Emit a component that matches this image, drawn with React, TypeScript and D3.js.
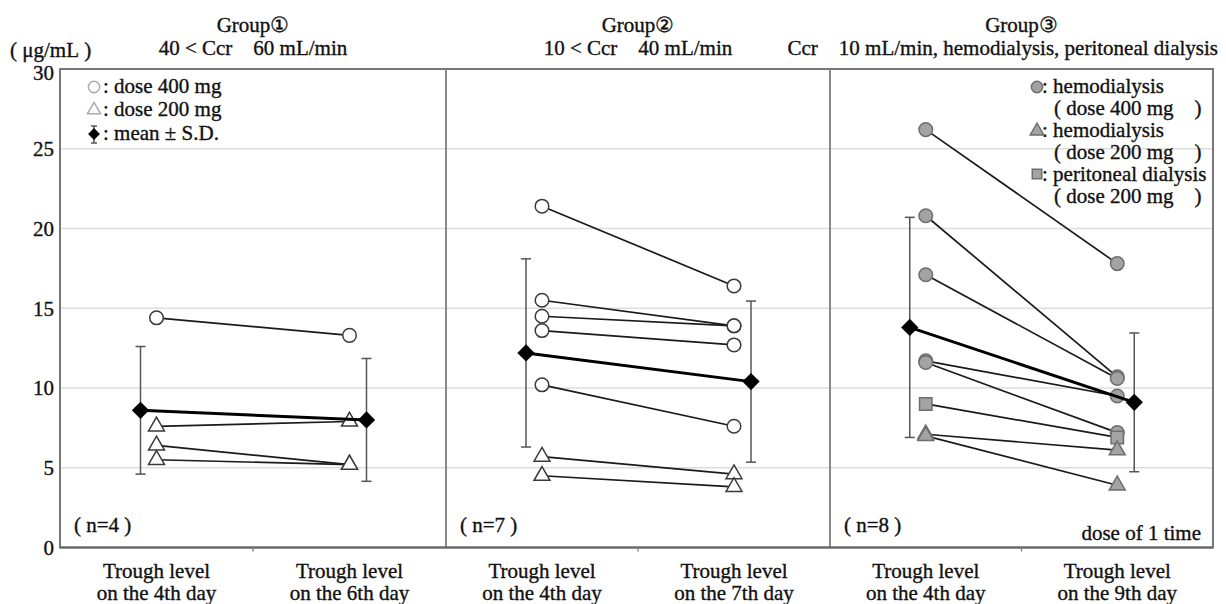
import * as d3 from "d3";

// y axis ticks (μg/mL)
const yTicks = [0, 5, 10, 15, 20, 25, 30];

const groupTitles = ["Group①", "Group②", "Group③"];
const nLabels = ["( n=4 )", "( n=7 )", "( n=8 )"];
const dayLabels = [
  ["on the 4th day", "on the 6th day"],
  ["on the 4th day", "on the 7th day"],
  ["on the 4th day", "on the 9th day"],
];

// each pair = [4th day, later day]
const g1Dose400 = [[14.4, 13.3]];
const g1Dose200 = [[7.6, 7.9], [6.4, 5.2], [5.5, 5.2]];
const g1Mean = [8.6, 8.0];
const g1SD = [4.0, 3.85];

const g2Dose400 = [[21.4, 16.4], [15.5, 13.9], [14.5, 13.9], [13.6, 12.7], [10.2, 7.6]];
const g2Dose200 = [[5.7, 4.6], [4.5, 3.8]];
const g2Mean = [12.2, 10.4];
const g2SD = [5.9, 5.05];

const g3Hemo400 = [[26.2, 17.8], [20.8, 10.7], [17.1, 10.6], [11.7, 9.5], [11.6, 7.2]];
const g3Hemo200 = [[7.1, 6.1], [7.0, 3.9]];
const g3Peri200 = [[9.0, 6.9]];
const g3Mean = [13.8, 9.1];
const g3SD = [6.9, 4.35];

const FONT = "'Liberation Serif', 'Times New Roman', serif";
const FS = 21;
const sp = "\u00A0";
const panelEdges = [60, 446, 830, 1213];
const top = 69;
const bottom = 547.5;

const y = d3.scaleLinear().domain([0, 30]).range([bottom, top]);

const sym = (type: d3.SymbolType, size: number) => d3.symbol().type(type).size(size)()!;
const circlePath = sym(d3.symbolCircle, 145);
const trianglePath = sym(d3.symbolTriangle, 110);
const squarePath = sym(d3.symbolSquare, 155);
const diamondPath = sym(d3.symbolSquare, 150);

const textStyle = { fill: "#111", stroke: "#111", strokeWidth: 0.35 };

function Panel({ i, series, mean, sd }: any) {
  const x = d3
    .scalePoint<string>()
    .domain(["a", "b"])
    .range([panelEdges[i], panelEdges[i + 1]])
    .padding(0.5);
  const xs = [x("a")!, x("b")!];
  const mx = [xs[0] - 16, xs[1] + 17];
  const line = d3.line<[number, number]>();
  const cx = (panelEdges[i] + panelEdges[i + 1]) / 2;
  return (
    <g>
      {series.map((s: any, si: number) =>
        s.data.map((d: number[], k: number) => (
          <path
            key={"l" + si + "-" + k}
            d={line([[xs[0], y(d[0])], [xs[1], y(d[1])]])!}
            stroke="#1a1a1a"
            strokeWidth={1.7}
            fill="none"
          />
        ))
      )}
      {[0, 1].map((j) => (
        <g key={"e" + j} stroke="#555" strokeWidth={1.5}>
          <line x1={mx[j]} x2={mx[j]} y1={y(mean[j] + sd[j])} y2={y(mean[j] - sd[j])} />
          <line x1={mx[j] - 5} x2={mx[j] + 5} y1={y(mean[j] + sd[j])} y2={y(mean[j] + sd[j])} />
          <line x1={mx[j] - 5} x2={mx[j] + 5} y1={y(mean[j] - sd[j])} y2={y(mean[j] - sd[j])} />
        </g>
      ))}
      {series.map((s: any, si: number) =>
        s.data.map((d: number[], k: number) =>
          [0, 1].map((j) => (
            <path
              key={"m" + si + "-" + k + "-" + j}
              d={s.path}
              transform={`translate(${xs[j]},${y(d[j])})`}
              fill={s.fill}
              stroke={s.stroke}
              strokeWidth={1.5}
            />
          ))
        )
      )}
      <path
        d={line([[mx[0], y(mean[0])], [mx[1], y(mean[1])]])!}
        stroke="#000"
        strokeWidth={3}
        fill="none"
      />
      {[0, 1].map((j) => (
        <path
          key={"d" + j}
          d={diamondPath}
          transform={`translate(${mx[j]},${y(mean[j])}) rotate(45)`}
          fill="#000"
        />
      ))}
      <line x1={cx} x2={cx} y1={bottom} y2={bottom + 4} stroke="#888" strokeWidth={1.5} />
      <g style={textStyle}>
        {[0, 1].map((j) => (
          <text key={"x" + j} x={xs[j]} textAnchor="middle" fontSize={FS}>
            <tspan x={xs[j]} y={578}>Trough level</tspan>
            <tspan x={xs[j]} y={600}>{dayLabels[i][j]}</tspan>
          </text>
        ))}
        <text x={panelEdges[i] + 14} y={532} fontSize={FS}>
          {nLabels[i].replace(/ /g, sp)}
        </text>
        <text x={cx} y={32} textAnchor="middle" fontSize={FS}>
          {groupTitles[i]}
        </text>
      </g>
    </g>
  );
}

export default function App() {
  const white = "#fff";
  const dark = "#3a3a3a";
  const grayFill = "#a3a3a3";
  const grayStroke = "#6e6e6e";
  const panels = [
    {
      series: [
        { data: g1Dose400, path: circlePath, fill: white, stroke: dark },
        { data: g1Dose200, path: trianglePath, fill: white, stroke: dark },
      ],
      mean: g1Mean,
      sd: g1SD,
    },
    {
      series: [
        { data: g2Dose400, path: circlePath, fill: white, stroke: dark },
        { data: g2Dose200, path: trianglePath, fill: white, stroke: dark },
      ],
      mean: g2Mean,
      sd: g2SD,
    },
    {
      series: [
        { data: g3Hemo400, path: circlePath, fill: grayFill, stroke: grayStroke },
        { data: g3Peri200, path: squarePath, fill: grayFill, stroke: grayStroke },
        { data: g3Hemo200, path: trianglePath, fill: grayFill, stroke: grayStroke },
      ],
      mean: g3Mean,
      sd: g3SD,
    },
  ];

  const pre = (s: string) => s.replace(/ /g, sp);

  return (
    <svg
      width={1226}
      height={604}
      style={{ position: "absolute", left: 0, top: 0, background: "#fff" }}
      fontFamily={FONT}
    >
      {/* grid */}
      {yTicks.slice(1, -1).map((t) => (
        <line key={t} x1={panelEdges[0]} x2={panelEdges[3]} y1={y(t)} y2={y(t)} stroke="#ddd" strokeWidth={1.5} />
      ))}
      {/* frame */}
      <rect
        x={panelEdges[0]}
        y={top}
        width={panelEdges[3] - panelEdges[0]}
        height={bottom - top}
        fill="none"
        stroke="#777"
        strokeWidth={2}
      />
      <line x1={panelEdges[1]} x2={panelEdges[1]} y1={top} y2={bottom} stroke="#888" strokeWidth={2} />
      <line x1={panelEdges[2]} x2={panelEdges[2]} y1={top} y2={bottom} stroke="#888" strokeWidth={2} />
      <line x1={panelEdges[0]} x2={panelEdges[3]} y1={bottom} y2={bottom} stroke="#666" strokeWidth={2} />

      {panels.map((p, i) => (
        <Panel key={i} i={i} series={p.series} mean={p.mean} sd={p.sd} />
      ))}

      <g style={textStyle}>
        {/* y tick labels */}
        {yTicks.map((t) => (
          <text
            key={t}
            x={54}
            y={y(t) + (t === 30 ? 4 : 0)}
            dy="0.35em"
            textAnchor="end"
            fontSize={FS}
          >
            {t}
          </text>
        ))}
        <text x={10} y={57} fontSize={FS}>
          {pre("( μg/mL )")}
        </text>

        {/* subtitles */}
        <text x={253} y={55} textAnchor="middle" fontSize={FS}>
          {pre("40 < Ccr    60 mL/min")}
        </text>
        <text x={638} y={55} textAnchor="middle" fontSize={FS}>
          {pre("10 < Ccr    40 mL/min")}
        </text>
        <text x={1218} y={55} textAnchor="end" fontSize={FS}>
          {pre("Ccr    10 mL/min, hemodialysis, peritoneal dialysis")}
        </text>

        <text x={103} y={93} fontSize={FS}>: dose 400 mg</text>
        <text x={103} y={116} fontSize={FS}>: dose 200 mg</text>
        <text x={103} y={140} fontSize={FS}>: mean ± S.D.</text>

        <text x={1042} y={93} fontSize={FS}>: hemodialysis</text>
        <text x={1054} y={115} fontSize={FS}>{pre("( dose 400 mg    )")}</text>
        <text x={1042} y={137} fontSize={FS}>: hemodialysis</text>
        <text x={1054} y={159} fontSize={FS}>{pre("( dose 200 mg    )")}</text>
        <text x={1042} y={181} fontSize={FS}>: peritoneal dialysis</text>
        <text x={1054} y={203} fontSize={FS}>{pre("( dose 200 mg    )")}</text>

        <text x={1201} y={540} textAnchor="end" fontSize={FS}>dose of 1 time</text>
      </g>

      {/* legend group 1 symbols */}
      <path d={sym(d3.symbolCircle, 100)} transform="translate(94,87)" fill="#fff" stroke="#aaa" strokeWidth={1.5} />
      <path d={sym(d3.symbolTriangle, 75)} transform="translate(94,110)" fill="#fff" stroke="#aaa" strokeWidth={1.5} />
      <g stroke="#555" strokeWidth={1.5}>
        <line x1={94} x2={94} y1={126} y2={143} />
        <line x1={91} x2={97} y1={126} y2={126} />
        <line x1={91} x2={97} y1={143} y2={143} />
      </g>
      <path d={sym(d3.symbolSquare, 70)} transform="translate(94,134) rotate(45)" fill="#000" />

      {/* legend group 3 symbols */}
      <path d={sym(d3.symbolCircle, 100)} transform="translate(1037,87)" fill={grayFill} stroke={grayStroke} strokeWidth={1.5} />
      <path d={sym(d3.symbolTriangle, 80)} transform="translate(1037,131)" fill={grayFill} stroke={grayStroke} strokeWidth={1.5} />
      <path d={sym(d3.symbolSquare, 90)} transform="translate(1037,174)" fill={grayFill} stroke={grayStroke} strokeWidth={1.5} />
    </svg>
  );
}
